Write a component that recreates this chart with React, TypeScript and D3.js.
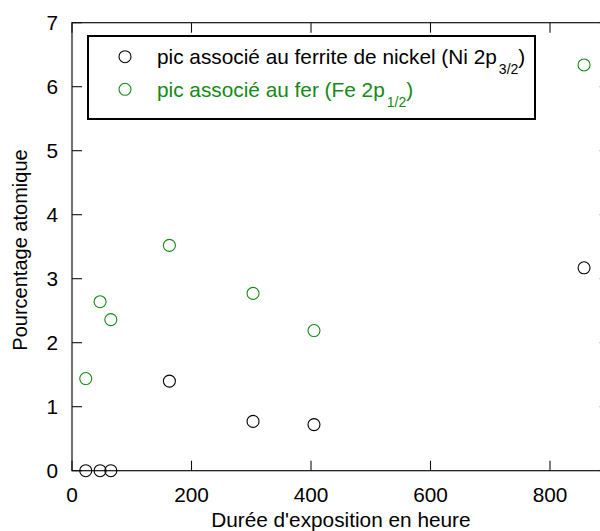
import React from "react";
import * as d3 from "d3";

const hours = [23, 47, 65, 163, 303, 405, 857];
const nickel = [0, 0, 0, 1.4, 0.77, 0.72, 3.17];
const fer = [1.44, 2.64, 2.36, 3.52, 2.77, 2.19, 6.34];
const xTicks = [0, 200, 400, 600, 800];
const yTicks = [0, 1, 2, 3, 4, 5, 6, 7];

const W = 600;
const H = 531;
const m = { left: 72, top: 22.7, right: 609.75, bottom: 470.7 };
const GREEN = "#138a13";
const FONT = "'Liberation Sans', Arial, sans-serif";

export default function App() {
  const x = d3.scaleLinear().domain([0, 900]).range([m.left, m.right]);
  const y = d3.scaleLinear().domain([0, 7]).range([m.bottom, m.top]);
  const tl = 10;
  const fs = 20.8;
  return (
    <svg
      width={W}
      height={H}
      style={{ position: "absolute", left: 0, top: 0, background: "#fff" }}
      fontFamily={FONT}
    >
      <rect x={0} y={0} width={W} height={H} fill="#fff" />
      {/* frame */}
      <rect
        x={m.left}
        y={m.top}
        width={m.right - m.left}
        height={m.bottom - m.top}
        fill="none"
        stroke="#111"
        strokeWidth={1.2}
      />
      {/* x ticks bottom & top */}
      {xTicks.map((t) => (
        <g key={"xt" + t}>
          <line x1={x(t)} x2={x(t)} y1={m.bottom} y2={m.bottom - tl} stroke="#111" strokeWidth={1.1} />
          <line x1={x(t)} x2={x(t)} y1={m.top} y2={m.top + tl} stroke="#111" strokeWidth={1.1} />
          <text x={x(t)} y={502} textAnchor="middle" fontSize={fs} fill="#000">
            {t}
          </text>
        </g>
      ))}
      {/* y ticks left & right */}
      {yTicks.map((t) => (
        <g key={"yt" + t}>
          <line x1={m.left} x2={m.left + tl} y1={y(t)} y2={y(t)} stroke="#111" strokeWidth={1.1} />
          <line x1={m.right} x2={m.right - tl} y1={y(t)} y2={y(t)} stroke="#111" strokeWidth={1.1} />
          <text x={58} y={y(t) + 7} textAnchor="end" fontSize={fs} fill="#000">
            {t}
          </text>
        </g>
      ))}
      {/* axis titles */}
      <text x={(m.left + m.right) / 2} y={527} textAnchor="middle" fontSize={fs} fill="#000">
        Durée d'exposition en heure
      </text>
      <text
        transform={`translate(27,250) rotate(-90)`}
        textAnchor="middle"
        fontSize={20}
        fill="#000"
      >
        Pourcentage atomique
      </text>
      {/* data */}
      {hours.map((h, i) => (
        <circle key={"n" + i} cx={x(h)} cy={y(nickel[i])} r={6} fill="none" stroke="#000" strokeWidth={1.1} />
      ))}
      {hours.map((h, i) => (
        <circle key={"f" + i} cx={x(h)} cy={y(fer[i])} r={6} fill="none" stroke={GREEN} strokeWidth={1.1} />
      ))}
      {/* legend */}
      <rect x={88} y={36} width={447} height={83} fill="#fff" stroke="#000" strokeWidth={2} />
      <circle cx={125} cy={56.7} r={6} fill="none" stroke="#000" strokeWidth={1.1} />
      <circle cx={125} cy={89.3} r={6} fill="none" stroke={GREEN} strokeWidth={1.1} />
      <text x={157} y={64} fontSize={fs} fill="#000">
        pic associé au ferrite de nickel (Ni 2p
        <tspan dx={2} dy={10} fontSize={14}>3/2</tspan>
        <tspan dy={-10}>)</tspan>
      </text>
      <text x={157} y={97} fontSize={fs} fill={GREEN}>
        pic associé au fer (Fe 2p
        <tspan dx={2} dy={10} fontSize={14}>1/2</tspan>
        <tspan dy={-10}>)</tspan>
      </text>
    </svg>
  );
}
